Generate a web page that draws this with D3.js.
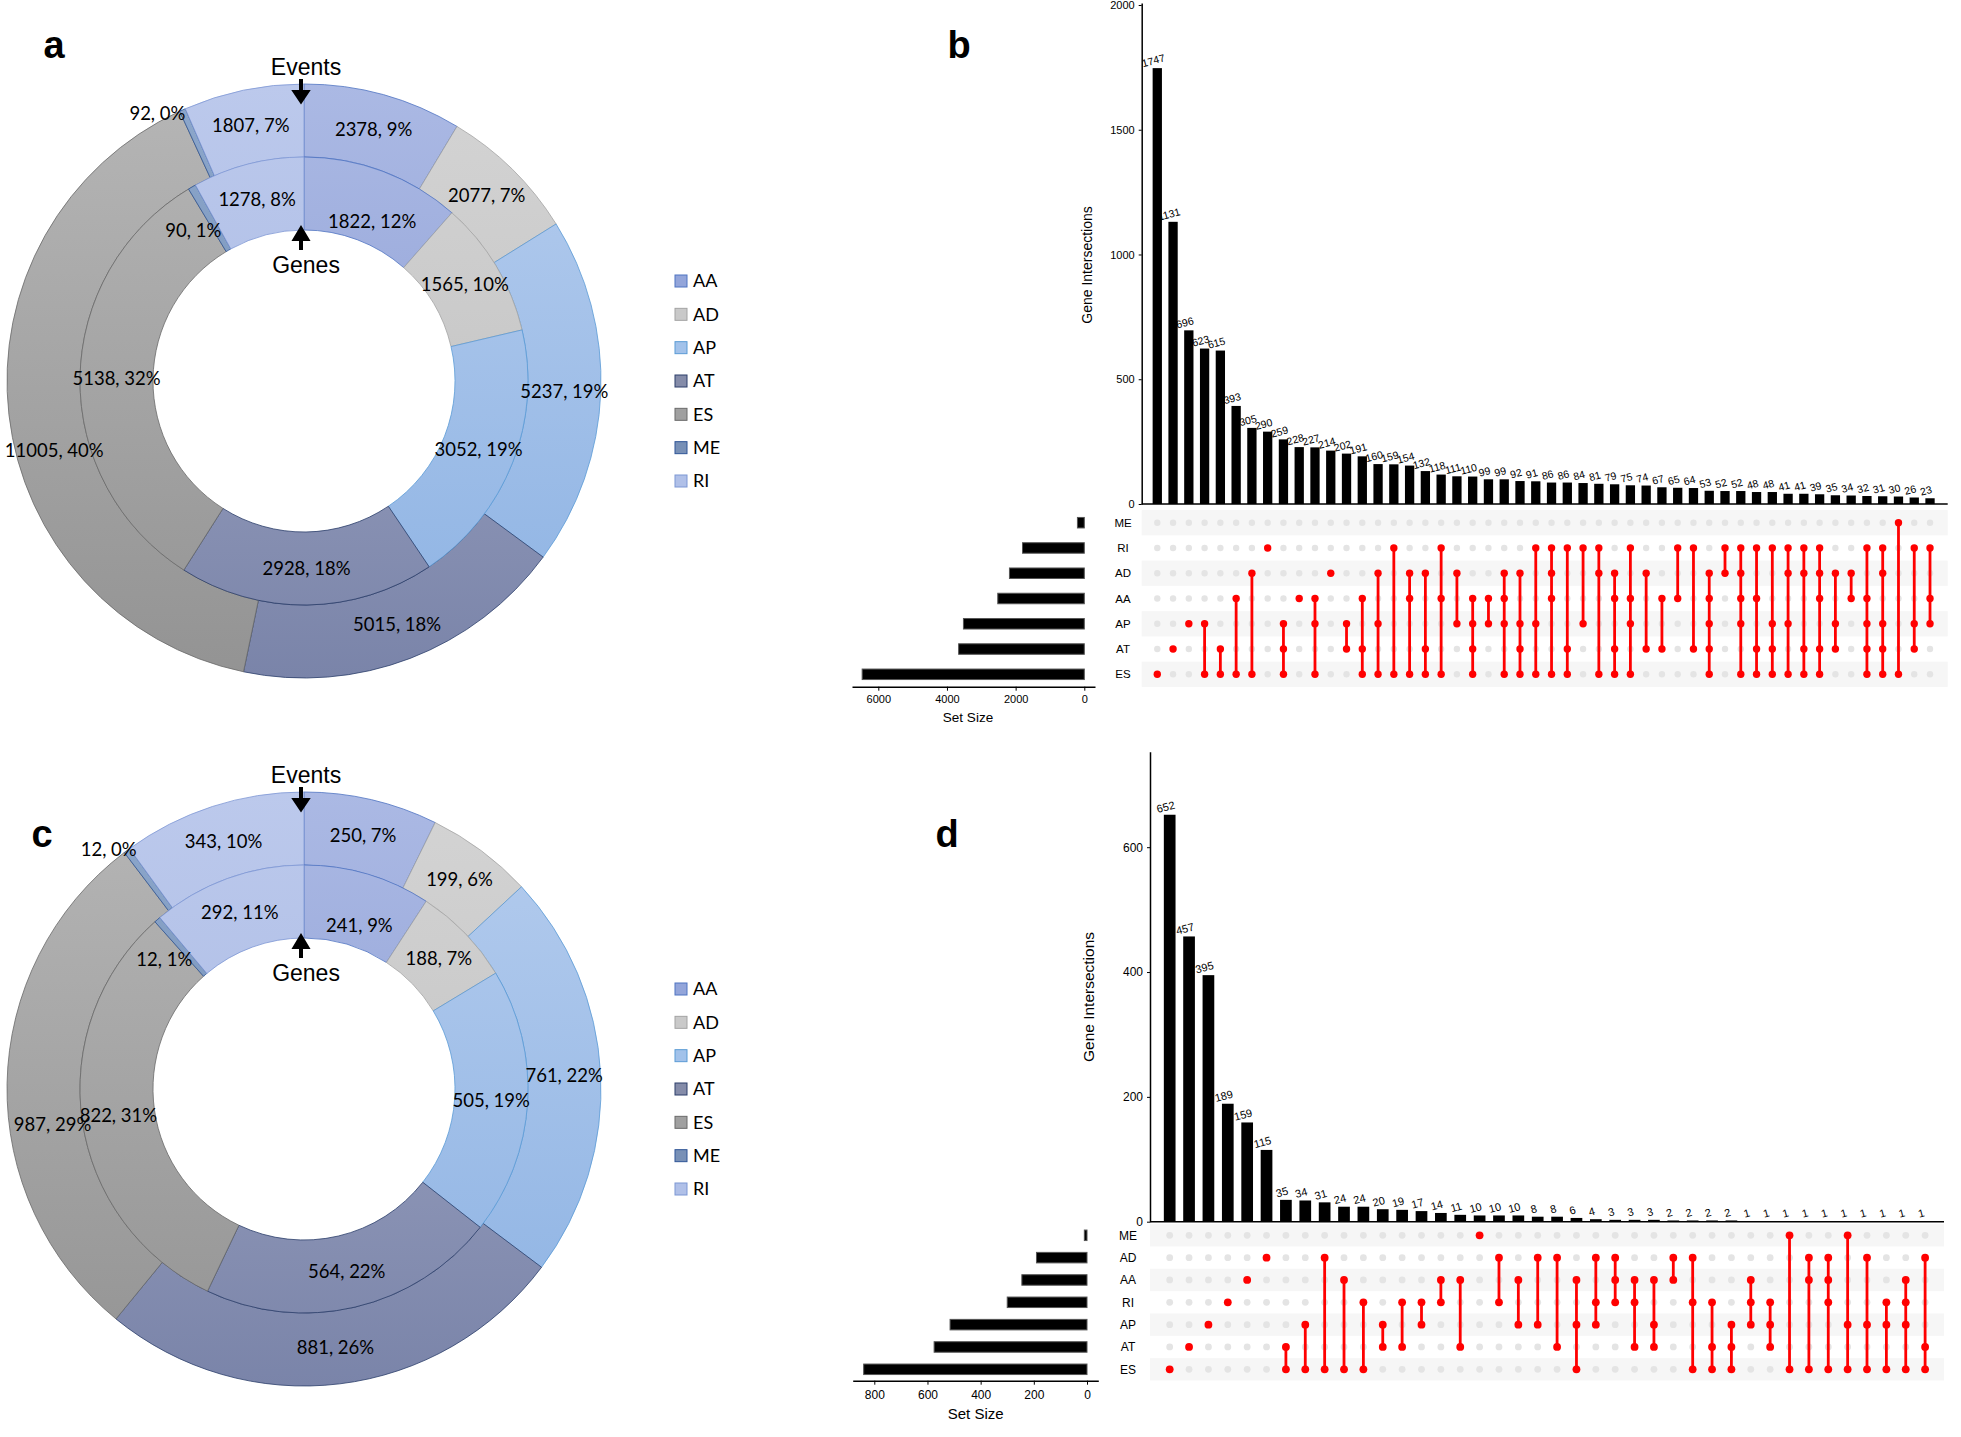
<!DOCTYPE html>
<html>
<head>
<meta charset="utf-8">
<script src="https://cdn.jsdelivr.net/npm/d3@7"></script>
<style>
  body { margin: 0; background: #fff; }
  svg { display: block; }
  .up text { font-family: 'Liberation Sans', Arial, sans-serif; }
  .donut text { font-family: Lato, 'Open Sans', sans-serif; }
</style>
</head>
<body>
<svg width="1961" height="1437"></svg>
<script>
// ---- donut data (a: all, c: subset) ----
const cats = ['AA', 'AD', 'AP', 'AT', 'ES', 'ME', 'RI'];
const aEvents = [2378, 2077, 5237, 5015, 11005, 92, 1807];
const aEventsPct = ['9%', '7%', '19%', '18%', '40%', '0%', '7%'];
const aGenes = [1822, 1565, 3052, 2928, 5138, 90, 1278];
const aGenesPct = ['12%', '10%', '19%', '18%', '32%', '1%', '8%'];
const cEvents = [250, 199, 761, 881, 987, 12, 343];
const cEventsPct = ['7%', '6%', '22%', '26%', '29%', '0%', '10%'];
const cGenes = [241, 188, 505, 564, 822, 12, 292];
const cGenesPct = ['9%', '7%', '19%', '22%', '31%', '1%', '11%'];

// ---- upset data (b) ----
const bSets = ['ME', 'RI', 'AD', 'AA', 'AP', 'AT', 'ES'];
const bSetSizes = [200, 1800, 2180, 2520, 3520, 3660, 6470];
const bCounts = [1747, 1131, 696, 623, 615, 393, 305, 290, 259, 228, 227, 214, 202, 191, 160,
  159, 154, 132, 118, 111, 110, 99, 99, 92, 91, 86, 86, 84, 81, 79, 75, 74, 67, 65, 64, 53,
  52, 52, 48, 48, 41, 41, 39, 35, 34, 32, 31, 30, 26, 23];
const bCombos = ['ES', 'AT', 'AP', 'AP ES', 'AT ES', 'AA ES', 'AD ES', 'RI', 'AP AT ES', 'AA',
  'AA AP ES', 'AD', 'AP AT', 'AA AT ES', 'AD AP ES', 'RI ES', 'AD AA ES', 'AD AT ES', 'RI AA ES',
  'AD AP', 'AA AP AT ES', 'AA AP', 'AD AA AP ES', 'AD AP AT ES', 'RI AP ES', 'RI AD AA ES',
  'RI AT ES', 'RI AP', 'RI AD ES', 'AD AA AT ES', 'RI AA AP ES', 'AD AT', 'AA AT', 'RI AA',
  'RI AT', 'AD AA AP AT ES', 'RI AD', 'RI AD AA AP ES', 'RI AA AT ES', 'RI AP AT ES',
  'RI AD AP ES', 'RI AD AT ES', 'RI AD AA AT ES', 'AD AP AT', 'AD AA', 'RI AA AP AT ES',
  'RI AD AP AT ES', 'ME ES', 'RI AP AT', 'RI AA AP'];
const bYTicks = [0, 500, 1000, 1500, 2000];
const bSizeTicks = [0, 2000, 4000, 6000];

// ---- upset data (d) ----
const dSets = ['ME', 'AD', 'AA', 'RI', 'AP', 'AT', 'ES'];
const dSetSizes = [10, 190, 245, 300, 515, 575, 840];
const dCounts = [652, 457, 395, 189, 159, 115, 35, 34, 31, 24, 24, 20, 19, 17, 14, 11, 10, 10,
  10, 8, 8, 6, 4, 3, 3, 3, 2, 2, 2, 2, 1, 1, 1, 1, 1, 1, 1, 1, 1, 1];
const dCombos = ['ES', 'AT', 'AP', 'RI', 'AA', 'AD', 'AT ES', 'AP ES', 'AD ES', 'AA ES', 'RI ES',
  'AP AT', 'RI AT', 'RI AP', 'AA RI', 'AA AT', 'ME', 'AD RI', 'AA AP', 'AD AP', 'AD AT',
  'AA AP ES', 'AD RI AP', 'AD AA RI', 'AA RI AT', 'AA AP AT', 'AD AA', 'AD RI ES', 'RI AT ES',
  'AP AT ES', 'AA RI AP', 'RI AP AT', 'ME ES', 'AD AA ES', 'AD AA RI ES', 'ME AP ES', 'AD AP ES',
  'RI AP ES', 'AA RI AP ES', 'AD AT ES'];
const dYTicks = [0, 200, 400, 600];
const dSizeTicks = [0, 200, 400, 600, 800];

const colors = {
  AA: { top: '#abb9e4', bottom: '#8698d1', edge: '#4f74c2', flat: '#93a5da' },
  AD: { top: '#d4d4d4', bottom: '#bcbcbc', edge: '#a3a3a3', flat: '#c9c9c9' },
  AP: { top: '#b6cdee', bottom: '#8cb2e3', edge: '#5b9bd5', flat: '#a2c2ea' },
  AT: { top: '#a8aec9', bottom: '#7a84a9', edge: '#2c3f6b', flat: '#858ca9' },
  ES: { top: '#b6b6b6', bottom: '#939393', edge: '#6a6a6a', flat: '#a0a0a0' },
  ME: { top: '#8ea8cc', bottom: '#6784ad', edge: '#2f5597', flat: '#7890b6' },
  RI: { top: '#bcc9ec', bottom: '#a3b5e1', edge: '#7d97d4', flat: '#b0c0e8' },
};

const svg = d3.select('svg');
const rOut = 297, rMid = 224, rIn = 151;

// labels moved by hand in the original (outer ES and the thin ME slices)
const nudge = {
  events: { ES: [9, 40], ME: [-40, -30] },
  genes: { ME: [-17, 12], AA: [2, 16] },
};

function drawDonut(cx, cy, events, eventsPct, genes, genesPct, key) {
  const g = svg.append('g').attr('class', 'donut').attr('transform', `translate(${cx},${cy})`);
  const defs = g.append('defs');
  cats.forEach(c => {
    const lg = defs.append('linearGradient')
      .attr('id', `${key}-${c}`)
      .attr('gradientUnits', 'userSpaceOnUse')
      .attr('x1', 0).attr('x2', 0).attr('y1', -rOut).attr('y2', rOut);
    lg.append('stop').attr('offset', '0%').attr('stop-color', colors[c].top);
    lg.append('stop').attr('offset', '100%').attr('stop-color', colors[c].bottom);
  });

  const pie = d3.pie().sort(null).value(d => d.v);
  const rings = [
    { name: 'events', vals: events, pcts: eventsPct, r0: rMid, r1: rOut },
    { name: 'genes', vals: genes, pcts: genesPct, r0: rIn, r1: rMid },
  ];
  const labels = [];
  rings.forEach(ring => {
    const arcs = pie(cats.map((c, i) => ({ cat: c, v: ring.vals[i], pct: ring.pcts[i] })));
    const arc = d3.arc().innerRadius(ring.r0).outerRadius(ring.r1);
    g.append('g').selectAll('path')
      .data(arcs)
      .join('path')
      .attr('d', arc)
      .attr('fill', d => `url(#${key}-${d.data.cat})`)
      .attr('stroke', d => colors[d.data.cat].edge)
      .attr('stroke-width', 0.8);
    arcs.forEach(d => {
      const [x, y] = arc.centroid(d);
      const off = nudge[ring.name][d.data.cat] || [0, 0];
      labels.push({ x: x + off[0], y: y + off[1], t: `${d.data.v}, ${d.data.pct}` });
    });
  });

  g.append('g').selectAll('text')
    .data(labels)
    .join('text')
    .attr('x', d => d.x)
    .attr('y', d => d.y)
    .attr('dy', '0.35em')
    .attr('text-anchor', 'middle')
    .attr('font-size', 18.5)
    .attr('fill', '#000')
    .text(d => d.t);

  // Events / Genes pointers
  const ax = -3;
  g.append('text').attr('x', ax + 5).attr('y', -rOut - 9)
    .attr('text-anchor', 'middle').attr('font-size', 23)
    .style('font-family', "'Liberation Sans', Arial, sans-serif").text('Events');
  g.append('path')
    .attr('d', `M${ax},${-rOut - 5}V${-rOut + 8}M${ax - 6},${-rOut + 8}L${ax + 6},${-rOut + 8}L${ax},${-rOut + 17}Z`)
    .attr('stroke', '#000').attr('stroke-width', 4).attr('fill', '#000');
  g.append('path')
    .attr('d', `M${ax},${-rIn + 20}V${-rIn + 8}M${ax - 6},${-rIn + 9}L${ax + 6},${-rIn + 9}L${ax},${-rIn - 1}Z`)
    .attr('stroke', '#000').attr('stroke-width', 4).attr('fill', '#000');
  g.append('text').attr('x', ax + 5).attr('y', -rIn + 43)
    .attr('text-anchor', 'middle').attr('font-size', 23)
    .style('font-family', "'Liberation Sans', Arial, sans-serif").text('Genes');

  // legend
  const ly = d3.scalePoint().domain(cats).range([-100, 100]);
  const lg = svg.append('g').attr('class', 'donut').attr('transform', `translate(675,${cy})`);
  const item = lg.selectAll('g').data(cats).join('g')
    .attr('transform', c => `translate(0,${ly(c)})`);
  item.append('rect').attr('x', 0).attr('y', -6).attr('width', 12).attr('height', 12)
    .attr('fill', c => colors[c].flat).attr('stroke', c => colors[c].edge).attr('stroke-width', 1);
  item.append('text').attr('x', 18).attr('dy', '0.36em').attr('font-size', 18).text(c => c);
}

function drawUpset(cfg) {
  const g = svg.append('g').attr('class', 'up');
  const n = cfg.counts.length;
  const x = d3.scalePoint().domain(d3.range(n)).range(cfg.colRange).padding(0.5);
  const row = d3.scalePoint().domain(cfg.sets).range(cfg.rowRange);
  const step = row.step();
  const y = d3.scaleLinear().domain([0, cfg.yTop]).range([cfg.base, cfg.topPx]);

  // matrix stripes
  g.append('g').selectAll('rect')
    .data(cfg.sets.filter((s, i) => i % 2 === 0))
    .join('rect')
    .attr('x', cfg.axisX).attr('width', cfg.matrixRight - cfg.axisX)
    .attr('y', s => row(s) - step / 2).attr('height', step)
    .attr('fill', '#f6f6f6');

  // count labels (drawn first, bars may cover them as in the original)
  g.append('g').selectAll('text')
    .data(cfg.counts)
    .join('text')
    .attr('transform', (v, i) => `translate(${x(i) - 3},${y(v) - 4}) rotate(-15)`)
    .attr('text-anchor', 'middle')
    .attr('font-size', cfg.countFont)
    .text(v => v);

  // bars
  g.append('g').selectAll('rect')
    .data(cfg.counts)
    .join('rect')
    .attr('x', (v, i) => x(i) - cfg.barWidth / 2)
    .attr('width', cfg.barWidth)
    .attr('y', v => y(v))
    .attr('height', v => cfg.base - y(v))
    .attr('fill', '#000');

  // y axis
  const yAxis = g.append('g')
    .attr('transform', `translate(${cfg.axisX},0)`)
    .call(d3.axisLeft(y).tickValues(cfg.yTicks).tickFormat(d3.format('d'))
      .tickSize(3).tickSizeOuter(0).tickPadding(4));
  yAxis.selectAll('text').attr('font-size', cfg.tickFont).attr('fill', '#000');
  yAxis.select('.domain').attr('stroke-width', 1.5);

  // baseline
  g.append('line')
    .attr('x1', cfg.axisX).attr('x2', cfg.matrixRight)
    .attr('y1', cfg.base).attr('y2', cfg.base)
    .attr('stroke', '#000').attr('stroke-width', 1.5);

  g.append('text')
    .attr('transform', `translate(${cfg.yLabel[0]},${cfg.yLabel[1]}) rotate(-90)`)
    .attr('text-anchor', 'middle')
    .attr('font-size', cfg.labelFont)
    .text('Gene Intersections');

  // matrix dots
  const cells = [];
  cfg.combos.forEach((c, i) => {
    const members = c.split(' ');
    cfg.sets.forEach(s => cells.push({ i, s, on: members.includes(s) }));
  });
  g.append('g').selectAll('circle')
    .data(cells.filter(d => !d.on))
    .join('circle')
    .attr('cx', d => x(d.i)).attr('cy', d => row(d.s))
    .attr('r', cfg.dotR).attr('fill', '#e4e4e4');

  g.append('g').selectAll('line')
    .data(cfg.combos.map((c, i) => ({ i, ys: c.split(' ').map(s => row(s)) })).filter(d => d.ys.length > 1))
    .join('line')
    .attr('x1', d => x(d.i)).attr('x2', d => x(d.i))
    .attr('y1', d => d3.min(d.ys)).attr('y2', d => d3.max(d.ys))
    .attr('stroke', '#ff0000').attr('stroke-width', 2.8);

  g.append('g').selectAll('circle')
    .data(cells.filter(d => d.on))
    .join('circle')
    .attr('cx', d => x(d.i)).attr('cy', d => row(d.s))
    .attr('r', cfg.dotR + 0.5).attr('fill', '#ff0000');

  // set names
  g.append('g').selectAll('text')
    .data(cfg.sets)
    .join('text')
    .attr('x', cfg.rowLabelX).attr('y', s => row(s))
    .attr('dy', '0.36em')
    .attr('text-anchor', 'middle')
    .attr('font-size', cfg.rowFont)
    .text(s => s);

  // set size bars
  const sx = d3.scaleLinear().domain([0, cfg.sizeRef[0]]).range([cfg.sizeZero, cfg.sizeRef[1]]);
  g.append('g').selectAll('rect')
    .data(cfg.sets)
    .join('rect')
    .attr('x', (s, i) => sx(cfg.setSizes[i]))
    .attr('width', (s, i) => sx(0) - sx(cfg.setSizes[i]))
    .attr('y', s => row(s) - cfg.sizeBarH / 2)
    .attr('height', cfg.sizeBarH)
    .attr('fill', '#000')
    .attr('stroke', '#555')
    .attr('stroke-width', 1);

  const sxAxis = sx.copy()
    .domain([sx.invert(cfg.sizeAxis[1]), sx.invert(cfg.sizeAxis[0])])
    .range([cfg.sizeAxis[1], cfg.sizeAxis[0]]);
  const xa = g.append('g')
    .attr('transform', `translate(0,${cfg.sizeAxisY})`)
    .call(d3.axisBottom(sxAxis).tickValues(cfg.sizeTicks).tickFormat(d3.format('d'))
      .tickSize(4).tickSizeOuter(0).tickPadding(cfg.sizePad));
  xa.selectAll('text').attr('font-size', cfg.sizeTickFont).attr('fill', '#000');
  xa.select('.domain').attr('stroke-width', 1.5);

  g.append('text')
    .attr('x', cfg.sizeLabel[0]).attr('y', cfg.sizeLabel[1])
    .attr('dy', '0.36em')
    .attr('text-anchor', 'middle')
    .attr('font-size', cfg.sizeLabelFont)
    .text('Set Size');
}

drawDonut(304, 381, aEvents, aEventsPct, aGenes, aGenesPct, 'ga');
drawDonut(304, 1089, cEvents, cEventsPct, cGenes, cGenesPct, 'gc');

drawUpset({
  sets: bSets, setSizes: bSetSizes, counts: bCounts, combos: bCombos,
  colRange: [1149.4, 1937.9], rowRange: [522.7, 674.3],
  base: 504, yTop: 2008, topPx: 3, yTicks: bYTicks,
  axisX: 1141.7, matrixRight: 1947.7, barWidth: 9.3,
  dotR: 3.2, rowLabelX: 1123, rowFont: 11.5, tickFont: 11, countFont: 10.5, labelFont: 14,
  yLabel: [1092, 265],
  sizeZero: 1084.3, sizeRef: [6000, 878.3], sizeTicks: bSizeTicks,
  sizeAxis: [852, 1095], sizeAxisY: 686.7, sizePad: 5, sizeTickFont: 11, sizeBarH: 10.5,
  sizeLabel: [968, 717], sizeLabelFont: 13.5,
});

drawUpset({
  sets: dSets, setSizes: dSetSizes, counts: dCounts, combos: dCombos,
  colRange: [1160.0, 1934.8], rowRange: [1235.3, 1369.3],
  base: 1221.7, yTop: 753, topPx: 751.7, yTicks: dYTicks,
  axisX: 1150, matrixRight: 1944, barWidth: 11.7,
  dotR: 3.4, rowLabelX: 1128, rowFont: 12, tickFont: 12, countFont: 11, labelFont: 15.5,
  yLabel: [1094, 997],
  sizeZero: 1087, sizeRef: [800, 874.3], sizeTicks: dSizeTicks,
  sizeAxis: [852.7, 1098.3], sizeAxisY: 1380.7, sizePad: 6, sizeTickFont: 12, sizeBarH: 10.5,
  sizeLabel: [975.7, 1414], sizeLabelFont: 15,
});

// panel letters
svg.append('g')
  .selectAll('text')
  .data([['a', 54, 58], ['b', 959, 58], ['c', 42, 847], ['d', 947, 847]])
  .join('text')
  .attr('x', d => d[1]).attr('y', d => d[2])
  .attr('text-anchor', 'middle')
  .attr('font-family', "'Liberation Sans', Arial, sans-serif")
  .attr('font-weight', 'bold')
  .attr('font-size', 38)
  .text(d => d[0]);
</script>
</body>
</html>
